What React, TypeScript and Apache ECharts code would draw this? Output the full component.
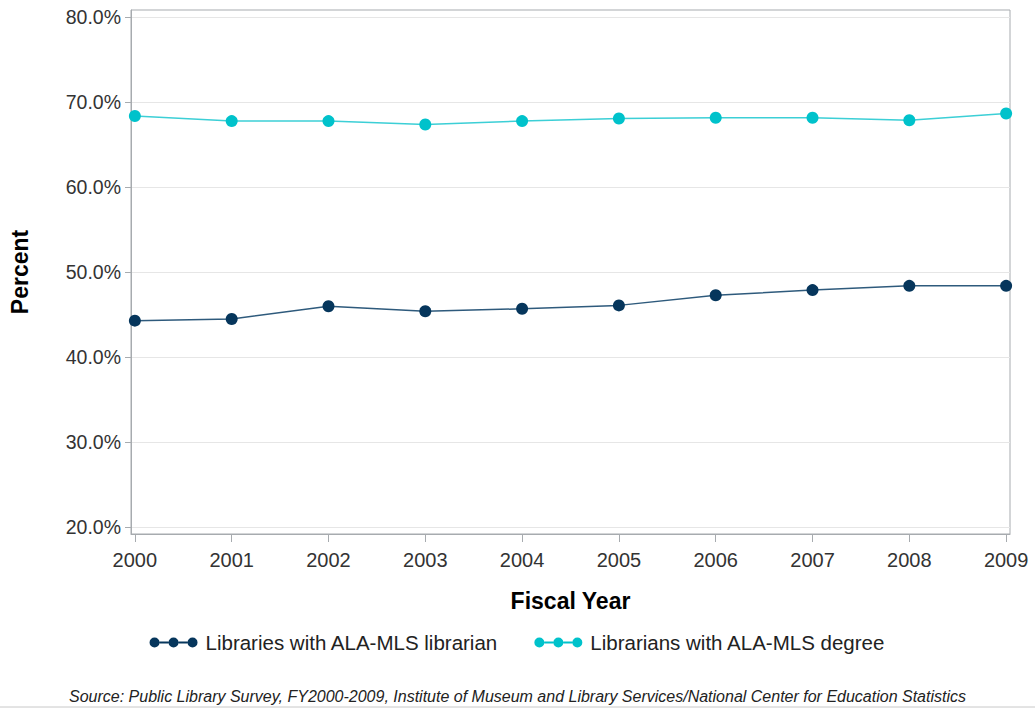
import React, { useEffect, useRef } from "react";
import * as echarts from "echarts";

const years = [2000, 2001, 2002, 2003, 2004, 2005, 2006, 2007, 2008, 2009];
const librariesWithMLS = [44.3, 44.5, 46.0, 45.4, 45.7, 46.1, 47.3, 47.9, 48.4, 48.4];
const librariansWithMLS = [68.4, 67.8, 67.8, 67.4, 67.8, 68.1, 68.2, 68.2, 67.9, 68.7];
const yTicks = [20, 30, 40, 50, 60, 70, 80];
const seriesNames = ["Libraries with ALA-MLS librarian", "Librarians with ALA-MLS degree"];

const FONT = "'Liberation Sans', Arial, Helvetica, sans-serif";
const legendIcon =
  "path://M0,5a5,5 0 1,0 10,0a5,5 0 1,0 -10,0Z M10,4H19V6H10Z M19,5a5,5 0 1,0 10,0a5,5 0 1,0 -10,0Z M29,4H38V6H29Z M38,5a5,5 0 1,0 10,0a5,5 0 1,0 -10,0Z";

export default function App() {
  const ref = useRef<HTMLDivElement>(null);
  useEffect(() => {
    if (!ref.current) return;
    const chart = echarts.init(ref.current, null, { renderer: "svg" });
    const mk = (vals: number[]) => years.map((y, i) => [y, vals[i]]);
    chart.setOption({
      animation: false,
      backgroundColor: "#ffffff",
      textStyle: { fontFamily: FONT },
      grid: {
        left: 129,
        top: 10,
        width: 881,
        height: 524,
        show: true,
        borderColor: "#a7abaf",
        borderWidth: 1,
        backgroundColor: "transparent",
      },
      xAxis: {
        type: "value",
        min: 1999.96,
        max: 2009.04,
        name: "Fiscal Year",
        nameLocation: "middle",
        nameGap: 55,
        nameTextStyle: { fontSize: 23, fontWeight: "bold", color: "#000", fontFamily: FONT },
        axisLine: { show: true, lineStyle: { color: "#a7abaf", width: 1 } },
        axisTick: { show: true, length: 8, lineStyle: { color: "#a7abaf" }, customValues: years },
        axisLabel: {
          customValues: years,
          fontSize: 20,
          color: "#333",
          margin: 16,
          fontFamily: FONT,
          formatter: (v: number) => String(Math.round(v)),
        },
        splitLine: { show: false },
      },
      yAxis: {
        type: "value",
        min: 19.18,
        max: 80.88,
        name: "Percent",
        nameLocation: "middle",
        nameGap: 100,
        nameRotate: 90,
        nameTextStyle: { fontSize: 23, fontWeight: "bold", color: "#000", fontFamily: FONT },
        axisLine: { show: true, lineStyle: { color: "#a7abaf", width: 1 } },
        axisTick: { show: true, length: 6, lineStyle: { color: "#a7abaf" }, customValues: yTicks },
        axisLabel: {
          customValues: yTicks,
          fontSize: 19.5,
          color: "#333",
          margin: 10,
          fontFamily: FONT,
          formatter: (v: number) => v.toFixed(1) + "%",
        },
        splitLine: { show: true, lineStyle: { color: "#e6e6e6", width: 1 } },
      },
      legend: {
        top: 627,
        left: "center",
        itemWidth: 48,
        itemHeight: 10,
        itemGap: 36,
        textStyle: { fontSize: 20.5, color: "#222", fontFamily: FONT, padding: [0, 0, 0, 3] },
        data: [
          { name: seriesNames[0], icon: legendIcon },
          { name: seriesNames[1], icon: legendIcon },
        ],
      },
      graphic: [
        {
          type: "text",
          left: "center",
          top: 688,
          style: {
            text:
              "Source: Public Library Survey, FY2000-2009, Institute of Museum and Library Services/National Center for Education Statistics",
            fill: "#222",
            font: "italic 16px " + FONT,
          },
        },
        {
          type: "line",
          shape: { x1: 0, y1: 707, x2: 1035, y2: 707 },
          style: { stroke: "#c8c8c8", lineWidth: 1 },
        },
      ],
      series: [
        {
          name: seriesNames[0],
          type: "line",
          data: mk(librariesWithMLS),
          symbol: "circle",
          symbolSize: 12,
          itemStyle: { color: "#06365c" },
          lineStyle: { color: "#2e5a7c", width: 1.5 },
        },
        {
          name: seriesNames[1],
          type: "line",
          data: mk(librariansWithMLS),
          symbol: "circle",
          symbolSize: 12,
          itemStyle: { color: "#00c2cb" },
          lineStyle: { color: "#3ccfd6", width: 1.5 },
        },
      ],
    });
    return () => chart.dispose();
  }, []);
  return <div ref={ref} style={{ width: 1035, height: 709, position: "absolute", left: 0, top: 0 }} />;
}
